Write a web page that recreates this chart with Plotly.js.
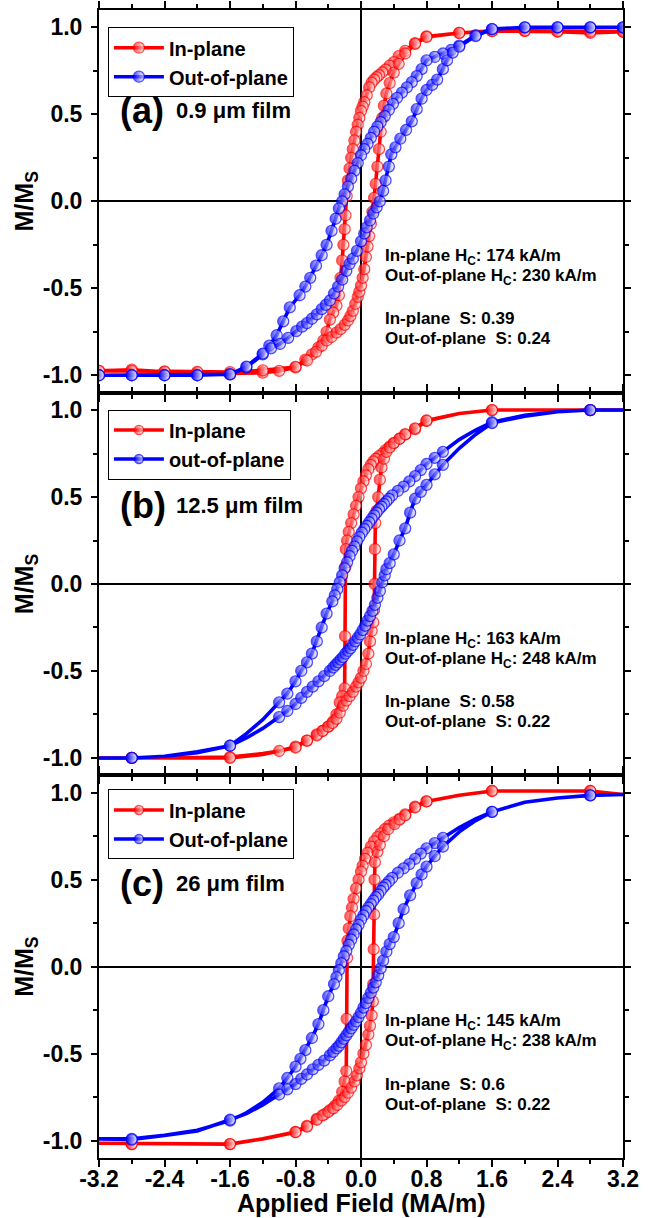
<!DOCTYPE html>
<html><head><meta charset="utf-8">
<script src="https://cdn.plot.ly/plotly-3.0.1.min.js"></script>
<style>html,body{margin:0;padding:0;background:#fff}</style>
</head><body><div id="chart" style="width:653px;height:1218px"></div>
<script>
// ---------- tick labels ----------
const xTickVals = [-3.2, -2.4, -1.6, -0.8, 0, 0.8, 1.6, 2.4, 3.2];
const xTickText = ['-3.2', '-2.4', '-1.6', '-0.8', '0.0', '0.8', '1.6', '2.4', '3.2'];
const xMinorVals = [-2.8, -2.0, -1.2, -0.4, 0.4, 1.2, 2.0, 2.8];
const yTickVals = [-1, -0.5, 0, 0.5, 1];
const yTickText = ['-1.0', '-0.5', '0.0', '0.5', '1.0'];
const yMinorVals = [-0.75, -0.25, 0.25, 0.75];
const xTitle = 'Applied Field (MA/m)';
const yTitle = 'M/M<sub>S</sub>';

// ---------- panel texts ----------
const panelLetters = ['(a)', '(b)', '(c)'];
const panelFilms = ['0.9 μm film', '12.5 μm film', '26 μm film'];
const inNames = ['In-plane', 'In-plane', 'In-plane'];
const outNames = ['Out-of-plane', 'out-of-plane', 'Out-of-plane'];
const hcIn = ['174', '163', '145'];
const hcOut = ['230', '248', '238'];
const sIn = ['0.39', '0.58', '0.6'];
const sOut = ['0.24', '0.22', '0.22'];

// ---------- data: [field (MA/m), M/Ms] ----------
// Panel (a) 0.9 um film
const aInDown = [[3.2,0.975],[2.8,0.968],[2.4,0.975],[2.0,0.98],[1.6,0.98],[1.2,0.968],[0.8,0.948],[0.66,0.91],[0.54,0.865],[0.46,0.835],[0.4,0.8],[0.35,0.78],[0.3,0.758],[0.26,0.742],[0.22,0.726],[0.19,0.714],[0.16,0.7],[0.13,0.682],[0.1,0.655],[0.07,0.61],[0.04,0.57],[0.02,0.545],[0.0,0.52],[-0.02,0.48],[-0.04,0.44],[-0.06,0.4],[-0.08,0.35],[-0.1,0.3],[-0.12,0.25],[-0.14,0.19],[-0.16,0.12],[-0.175,0.03],[-0.19,-0.08],[-0.2,-0.16],[-0.215,-0.25],[-0.23,-0.34],[-0.25,-0.44],[-0.27,-0.54],[-0.3,-0.6],[-0.34,-0.64],[-0.38,-0.68],[-0.42,-0.75],[-0.46,-0.8],[-0.52,-0.84],[-0.6,-0.88],[-0.68,-0.91],[-0.8,-0.955],[-1.0,-0.975],[-1.2,-0.985],[-1.6,-0.99],[-2.0,-0.985],[-2.4,-0.98],[-2.8,-0.968],[-3.2,-0.975]];
const aInUp = [[-3.2,-0.975],[-2.8,-0.975],[-2.4,-0.978],[-2.0,-0.98],[-1.6,-0.982],[-1.2,-0.972],[-0.8,-0.952],[-0.66,-0.915],[-0.55,-0.865],[-0.48,-0.83],[-0.42,-0.8],[-0.36,-0.78],[-0.3,-0.755],[-0.25,-0.735],[-0.2,-0.71],[-0.16,-0.685],[-0.13,-0.66],[-0.1,-0.63],[-0.07,-0.59],[-0.04,-0.55],[-0.02,-0.52],[0.0,-0.485],[0.02,-0.44],[0.04,-0.39],[0.06,-0.32],[0.08,-0.26],[0.1,-0.2],[0.12,-0.13],[0.14,-0.06],[0.16,0.02],[0.18,0.1],[0.2,0.2],[0.22,0.3],[0.24,0.4],[0.26,0.48],[0.28,0.55],[0.31,0.62],[0.35,0.68],[0.4,0.74],[0.46,0.79],[0.54,0.85],[0.66,0.905],[0.8,0.945],[1.2,0.968],[1.6,0.978],[2.0,0.98],[2.4,0.978],[2.8,0.975],[3.2,0.975]];
const aOutDown = [[3.2,1.0],[2.8,1.0],[2.4,1.0],[2.0,1.0],[1.6,0.99],[1.4,0.955],[1.2,0.895],[1.1,0.87],[1.0,0.85],[0.9,0.83],[0.8,0.81],[0.74,0.76],[0.68,0.72],[0.62,0.685],[0.56,0.655],[0.5,0.625],[0.44,0.595],[0.39,0.56],[0.34,0.525],[0.29,0.49],[0.24,0.455],[0.2,0.43],[0.16,0.4],[0.12,0.365],[0.08,0.33],[0.04,0.3],[0.0,0.265],[-0.04,0.22],[-0.08,0.175],[-0.12,0.13],[-0.16,0.085],[-0.2,0.04],[-0.23,0.0],[-0.27,-0.04],[-0.31,-0.1],[-0.36,-0.17],[-0.42,-0.25],[-0.48,-0.31],[-0.55,-0.37],[-0.62,-0.44],[-0.68,-0.49],[-0.75,-0.54],[-0.87,-0.61],[-0.95,-0.69],[-1.03,-0.77],[-1.12,-0.83],[-1.2,-0.88],[-1.4,-0.955],[-1.6,-0.995],[-2.0,-1.0],[-2.4,-1.0],[-2.8,-1.0],[-3.2,-1.0]];
const aOutUp = [[-3.2,-1.0],[-2.8,-1.0],[-2.4,-1.0],[-2.0,-1.0],[-1.6,-0.995],[-1.4,-0.95],[-1.2,-0.875],[-1.1,-0.845],[-0.99,-0.82],[-0.89,-0.785],[-0.79,-0.746],[-0.72,-0.72],[-0.66,-0.7],[-0.6,-0.675],[-0.54,-0.65],[-0.48,-0.62],[-0.43,-0.595],[-0.38,-0.57],[-0.33,-0.53],[-0.28,-0.49],[-0.23,-0.45],[-0.18,-0.4],[-0.14,-0.36],[-0.1,-0.33],[-0.05,-0.285],[0.0,-0.23],[0.04,-0.185],[0.07,-0.15],[0.11,-0.11],[0.15,-0.07],[0.19,-0.035],[0.23,0.0],[0.27,0.06],[0.3,0.12],[0.34,0.2],[0.37,0.27],[0.42,0.31],[0.48,0.36],[0.55,0.41],[0.62,0.46],[0.68,0.53],[0.74,0.59],[0.8,0.64],[0.87,0.67],[0.93,0.7],[1.0,0.76],[1.05,0.81],[1.12,0.855],[1.2,0.89],[1.4,0.95],[1.6,0.99],[2.0,1.0],[2.4,1.0],[2.8,1.0],[3.2,1.0]];

// Panel (b) 12.5 um film
const bInDown = [[3.2,1.0],[2.8,1.0],[2.4,1.0],[2.0,1.0],[1.6,1.0],[1.2,0.98],[0.8,0.937],[0.66,0.89],[0.54,0.86],[0.47,0.835],[0.4,0.81],[0.35,0.79],[0.3,0.77],[0.26,0.75],[0.22,0.735],[0.18,0.72],[0.15,0.705],[0.12,0.685],[0.09,0.66],[0.06,0.625],[0.03,0.59],[0.0,0.55],[-0.03,0.5],[-0.06,0.45],[-0.09,0.4],[-0.12,0.35],[-0.15,0.3],[-0.17,0.25],[-0.185,0.2],[-0.19,0.1],[-0.195,-0.3],[-0.2,-0.6],[-0.23,-0.645],[-0.26,-0.68],[-0.3,-0.75],[-0.34,-0.79],[-0.4,-0.82],[-0.47,-0.845],[-0.54,-0.865],[-0.66,-0.9],[-0.8,-0.935],[-1.0,-0.96],[-1.2,-0.975],[-1.6,-0.995],[-2.0,-1.0],[-2.4,-1.0],[-2.8,-1.0],[-3.2,-1.0]];
const bInUp = [[-3.2,-1.0],[-2.8,-1.0],[-2.4,-1.0],[-2.0,-1.0],[-1.6,-1.0],[-1.2,-0.98],[-0.8,-0.94],[-0.66,-0.9],[-0.54,-0.87],[-0.47,-0.845],[-0.4,-0.82],[-0.35,-0.8],[-0.3,-0.775],[-0.26,-0.74],[-0.22,-0.7],[-0.18,-0.67],[-0.14,-0.645],[-0.1,-0.62],[-0.06,-0.59],[-0.03,-0.565],[0.0,-0.54],[0.03,-0.5],[0.06,-0.46],[0.09,-0.4],[0.11,-0.33],[0.13,-0.27],[0.15,-0.22],[0.16,-0.15],[0.165,0.0],[0.17,0.2],[0.175,0.35],[0.19,0.42],[0.21,0.5],[0.23,0.6],[0.25,0.67],[0.28,0.72],[0.31,0.76],[0.35,0.785],[0.4,0.81],[0.47,0.835],[0.54,0.86],[0.66,0.895],[0.8,0.94],[1.2,0.98],[1.6,1.0],[2.0,1.0],[2.4,1.0],[2.8,1.0],[3.2,1.0]];
const bOutDown = [[3.2,1.0],[2.8,1.0],[2.4,0.99],[2.0,0.97],[1.6,0.93],[1.4,0.885],[1.2,0.83],[1.0,0.76],[0.9,0.725],[0.8,0.69],[0.73,0.655],[0.66,0.62],[0.59,0.59],[0.52,0.56],[0.45,0.535],[0.38,0.51],[0.34,0.49],[0.31,0.475],[0.28,0.46],[0.25,0.445],[0.22,0.43],[0.19,0.41],[0.16,0.395],[0.13,0.375],[0.1,0.355],[0.07,0.335],[0.04,0.315],[0.01,0.295],[-0.02,0.27],[-0.05,0.245],[-0.08,0.215],[-0.11,0.19],[-0.14,0.16],[-0.17,0.125],[-0.2,0.09],[-0.23,0.05],[-0.26,0.01],[-0.29,-0.03],[-0.32,-0.065],[-0.35,-0.1],[-0.42,-0.17],[-0.48,-0.25],[-0.54,-0.33],[-0.6,-0.4],[-0.66,-0.45],[-0.73,-0.5],[-0.8,-0.56],[-0.9,-0.63],[-1.0,-0.68],[-1.2,-0.78],[-1.4,-0.86],[-1.6,-0.93],[-2.0,-0.965],[-2.4,-0.99],[-2.8,-1.0],[-3.2,-1.0]];
const bOutUp = [[-3.2,-1.0],[-2.8,-1.0],[-2.4,-0.99],[-2.0,-0.97],[-1.6,-0.93],[-1.4,-0.885],[-1.2,-0.83],[-1.0,-0.765],[-0.9,-0.73],[-0.8,-0.69],[-0.73,-0.655],[-0.66,-0.62],[-0.59,-0.59],[-0.52,-0.56],[-0.45,-0.53],[-0.38,-0.5],[-0.34,-0.48],[-0.31,-0.465],[-0.28,-0.45],[-0.25,-0.435],[-0.22,-0.42],[-0.19,-0.4],[-0.16,-0.385],[-0.13,-0.37],[-0.1,-0.35],[-0.07,-0.33],[-0.04,-0.31],[-0.01,-0.29],[0.02,-0.265],[0.05,-0.24],[0.08,-0.21],[0.11,-0.185],[0.14,-0.155],[0.17,-0.12],[0.2,-0.08],[0.23,-0.04],[0.26,0.01],[0.29,0.05],[0.31,0.085],[0.35,0.12],[0.4,0.17],[0.47,0.25],[0.54,0.32],[0.6,0.41],[0.66,0.49],[0.73,0.53],[0.8,0.57],[0.9,0.63],[1.0,0.685],[1.2,0.78],[1.4,0.86],[1.6,0.925],[2.0,0.965],[2.4,0.99],[2.8,1.0],[3.2,1.0]];

// Panel (c) 26 um film
const cInDown = [[3.2,0.99],[2.8,1.01],[2.4,1.01],[2.0,1.01],[1.6,1.01],[1.2,0.985],[0.8,0.95],[0.66,0.92],[0.54,0.875],[0.47,0.85],[0.4,0.83],[0.34,0.81],[0.29,0.79],[0.24,0.766],[0.2,0.745],[0.16,0.72],[0.12,0.69],[0.08,0.655],[0.05,0.62],[0.02,0.58],[0.0,0.546],[-0.03,0.5],[-0.06,0.45],[-0.09,0.39],[-0.11,0.34],[-0.13,0.29],[-0.15,0.22],[-0.165,0.15],[-0.17,0.05],[-0.175,-0.3],[-0.18,-0.6],[-0.2,-0.66],[-0.23,-0.72],[-0.27,-0.77],[-0.32,-0.8],[-0.38,-0.825],[-0.45,-0.85],[-0.54,-0.875],[-0.66,-0.915],[-0.8,-0.95],[-1.2,-0.99],[-1.6,-1.02],[-2.0,-1.02],[-2.4,-1.02],[-2.8,-1.02],[-3.2,-1.015]];
const cInUp = [[-3.2,-1.015],[-2.8,-1.02],[-2.4,-1.02],[-2.0,-1.02],[-1.6,-1.02],[-1.2,-0.99],[-0.8,-0.952],[-0.66,-0.92],[-0.54,-0.88],[-0.47,-0.855],[-0.4,-0.835],[-0.34,-0.815],[-0.29,-0.795],[-0.24,-0.77],[-0.2,-0.75],[-0.16,-0.725],[-0.12,-0.695],[-0.08,-0.66],[-0.05,-0.625],[-0.02,-0.585],[0.0,-0.55],[0.03,-0.5],[0.06,-0.45],[0.09,-0.39],[0.11,-0.34],[0.13,-0.28],[0.145,-0.2],[0.15,-0.1],[0.155,0.1],[0.16,0.3],[0.165,0.5],[0.17,0.6],[0.2,0.66],[0.23,0.7],[0.28,0.75],[0.33,0.79],[0.41,0.82],[0.47,0.845],[0.54,0.87],[0.66,0.915],[0.8,0.95],[1.2,0.985],[1.6,1.01],[2.0,1.01],[2.4,1.01],[2.8,1.01],[3.2,0.99]];
const cOutDown = [[3.2,0.99],[2.8,0.985],[2.4,0.97],[2.0,0.945],[1.6,0.89],[1.4,0.85],[1.2,0.8],[1.0,0.74],[0.9,0.71],[0.8,0.68],[0.73,0.65],[0.66,0.62],[0.59,0.59],[0.52,0.565],[0.45,0.54],[0.38,0.51],[0.34,0.49],[0.3,0.47],[0.27,0.455],[0.24,0.435],[0.21,0.415],[0.18,0.4],[0.15,0.38],[0.12,0.36],[0.09,0.34],[0.06,0.32],[0.03,0.295],[0.0,0.27],[-0.03,0.24],[-0.06,0.215],[-0.09,0.185],[-0.12,0.155],[-0.15,0.125],[-0.18,0.09],[-0.21,0.06],[-0.24,0.02],[-0.27,-0.02],[-0.3,-0.06],[-0.33,-0.1],[-0.4,-0.17],[-0.46,-0.25],[-0.52,-0.33],[-0.6,-0.41],[-0.68,-0.48],[-0.74,-0.53],[-0.8,-0.575],[-0.9,-0.64],[-1.0,-0.7],[-1.2,-0.78],[-1.4,-0.84],[-1.6,-0.885],[-2.0,-0.94],[-2.4,-0.97],[-2.8,-0.99],[-3.2,-0.99]];
const cOutUp = [[-3.2,-0.99],[-2.8,-0.994],[-2.4,-0.97],[-2.0,-0.945],[-1.6,-0.88],[-1.4,-0.845],[-1.2,-0.795],[-1.0,-0.735],[-0.9,-0.705],[-0.8,-0.675],[-0.73,-0.645],[-0.66,-0.62],[-0.59,-0.59],[-0.52,-0.565],[-0.45,-0.54],[-0.38,-0.51],[-0.34,-0.49],[-0.3,-0.47],[-0.27,-0.455],[-0.24,-0.435],[-0.21,-0.415],[-0.18,-0.395],[-0.15,-0.375],[-0.12,-0.355],[-0.09,-0.335],[-0.06,-0.315],[-0.03,-0.29],[0.0,-0.265],[0.03,-0.235],[0.06,-0.21],[0.09,-0.18],[0.12,-0.15],[0.15,-0.12],[0.18,-0.09],[0.21,-0.05],[0.24,-0.01],[0.27,0.035],[0.31,0.086],[0.35,0.13],[0.4,0.17],[0.46,0.25],[0.52,0.33],[0.6,0.41],[0.68,0.48],[0.74,0.53],[0.8,0.575],[0.9,0.635],[1.0,0.69],[1.2,0.775],[1.4,0.84],[1.6,0.89],[2.0,0.945],[2.4,0.97],[2.8,0.985],[3.2,0.99]];

// ---------- styling ----------
const FONT = 'Liberation Sans, Arial, sans-serif';
const RED = 'rgb(255,0,0)';
const BLUE = 'rgb(0,0,255)';
const MSIZE = 11;

const panels = [
  {inD: aInDown, inU: aInUp, outD: aOutDown, outU: aOutUp, xa: 'x', ya: 'y', leg: 'legend', dom: [2/3, 1], letterY: 0.52, legY: 0.985, denseLimit: 3.3, marked: []},
  {inD: bInDown, inU: bInUp, outD: bOutDown, outU: bOutUp, xa: 'x2', ya: 'y2', leg: 'legend2', dom: [1/3, 2/3], letterY: 0.45, legY: 0.652, denseLimit: 1.0, marked: [1.6, 2.8]},
  {inD: cInDown, inU: cInUp, outD: cOutDown, outU: cOutUp, xa: 'x3', ya: 'y3', leg: 'legend3', dom: [0, 1/3], letterY: 0.48, legY: 0.321, denseLimit: 1.0, marked: [1.6, 2.8]}
];

function mkTrace(down, up, name, color, p) {
  const pts = down.concat(up);
  // markers on every low-field point, and only on selected high-field points
  const sizes = pts.map(q => (Math.abs(q[0]) <= p.denseLimit || p.marked.indexOf(Math.abs(q[0])) >= 0) ? MSIZE : 0);
  return {
    type: 'scatter', mode: 'lines+markers', name: name,
    x: pts.map(q => q[0]), y: pts.map(q => q[1]),
    xaxis: p.xa, yaxis: p.ya, legend: p.leg,
    line: {color: color, width: 3.6},
    marker: {symbol: 'circle', size: sizes, color: color,
             line: {color: color, width: 1.3},
             gradient: {type: 'horizontal', color: 'white'}},
    hoverinfo: 'x+y'
  };
}

const data = [];
const annotations = [];
const layout = {
  width: 653, height: 1218,
  margin: {l: 99, r: 30, t: 10, b: 60},
  paper_bgcolor: 'white', plot_bgcolor: 'white',
  font: {family: FONT, color: '#000'},
  showlegend: true
};

const tickFont = {family: FONT, size: 23, color: '#000', weight: 'bold'};

panels.forEach((p, i) => {
  data.push(mkTrace(p.inD, p.inU, inNames[i], RED, p));
  data.push(mkTrace(p.outD, p.outU, outNames[i], BLUE, p));

  const n = i + 1;
  const xKey = n === 1 ? 'xaxis' : 'xaxis' + n;
  const yKey = n === 1 ? 'yaxis' : 'yaxis' + n;

  layout[xKey] = {
    domain: [0, 1], anchor: p.ya, range: [-3.2, 3.2],
    tickmode: 'array', tickvals: xTickVals, ticktext: xTickText,
    ticks: 'outside', ticklen: 7, tickwidth: 2, tickcolor: '#000',
    minor: {tickmode: 'array', tickvals: xMinorVals, ticks: 'outside', ticklen: 4, tickwidth: 2, tickcolor: '#000', showgrid: false},
    showline: true, linewidth: 2, linecolor: '#000', mirror: 'allticks',
    showgrid: false, zeroline: true, zerolinecolor: '#000', zerolinewidth: 2,
    showticklabels: n === 3, tickfont: tickFont, ticklabelstandoff: -8, fixedrange: true
  };
  layout[yKey] = {
    domain: p.dom, anchor: p.xa, range: [-1.1, 1.1],
    tickmode: 'array', tickvals: yTickVals, ticktext: yTickText,
    ticks: 'outside', ticklen: 6, tickwidth: 2, tickcolor: '#000',
    minor: {tickmode: 'array', tickvals: yMinorVals, ticks: 'outside', ticklen: 4, tickwidth: 2, tickcolor: '#000', showgrid: false},
    showline: true, linewidth: 2, linecolor: '#000', mirror: 'allticks',
    showgrid: false, zeroline: true, zerolinecolor: '#000', zerolinewidth: 2,
    tickfont: tickFont, ticklabelstandoff: 4, fixedrange: true,
    title: {text: yTitle, font: {family: FONT, size: 25, color: '#000', weight: 'bold'}, standoff: 2}
  };

  layout[p.leg] = {
    x: 0.017, y: p.legY, xanchor: 'left', yanchor: 'top',
    bgcolor: 'white', bordercolor: '#000', borderwidth: 1,
    font: {family: FONT, size: 20, color: '#000', weight: 'bold'},
    itemwidth: 50, tracegroupgap: 0
  };

  annotations.push({xref: p.xa, yref: p.ya, x: -2.97, y: p.letterY, xanchor: 'left', yanchor: 'middle',
    text: panelLetters[i], showarrow: false, font: {family: FONT, size: 36, color: '#000', weight: 'bold'}});
  annotations.push({xref: p.xa, yref: p.ya, x: -2.28, y: p.letterY, xanchor: 'left', yanchor: 'middle',
    text: panelFilms[i], showarrow: false, font: {family: FONT, size: 22, color: '#000', weight: 'bold'}});
  const info = [
    ['In-plane H<sub>C</sub>: ' + hcIn[i] + ' kA/m', -0.32],
    ['Out-of-plane H<sub>C</sub>: ' + hcOut[i] + ' kA/m', -0.435],
    ['In-plane  S: ' + sIn[i], -0.675],
    ['Out-of-plane  S: ' + sOut[i], -0.79]
  ];
  info.forEach(t => annotations.push({xref: p.xa, yref: p.ya, x: 0.27, y: t[1], xanchor: 'left', yanchor: 'middle',
    text: t[0], showarrow: false, font: {family: FONT, size: 17, color: '#000', weight: 'bold'}}));
});

// x-axis title of the bottom panel
annotations.push({xref: 'paper', yref: 'paper', x: 0.5, y: -0.039, xanchor: 'center', yanchor: 'middle',
  text: xTitle, showarrow: false, font: {family: FONT, size: 25, color: '#000', weight: 'bold'}});
layout.annotations = annotations;

Plotly.newPlot('chart', data, layout, {displayModeBar: false, staticPlot: true});
</script>
</body></html>
